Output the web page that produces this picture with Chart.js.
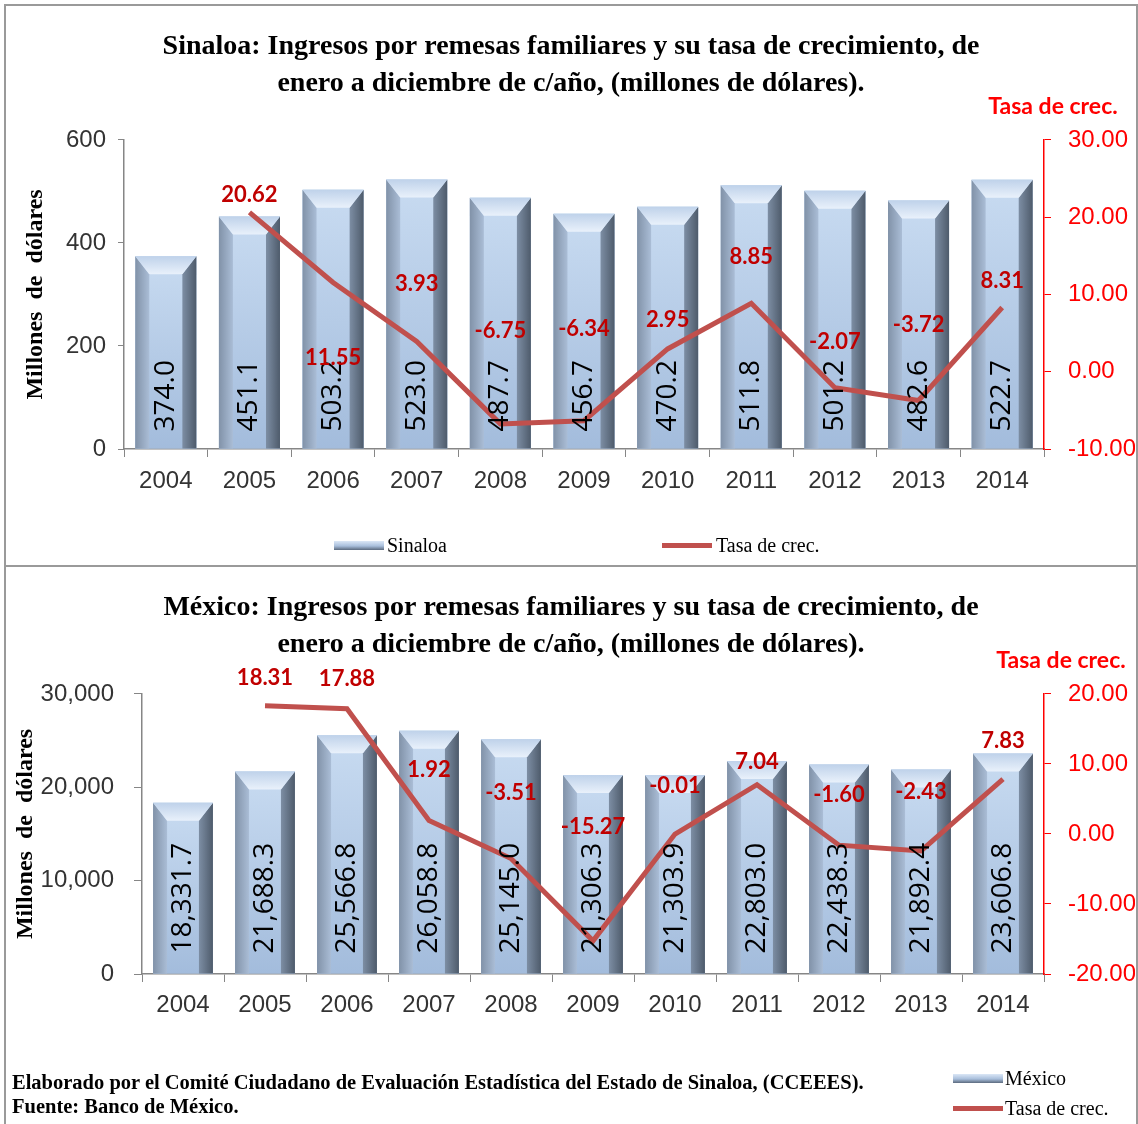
<!DOCTYPE html>
<html>
<head>
<meta charset="utf-8">
<script src="https://cdn.jsdelivr.net/npm/chart.js@4"></script>
<style>
  body { margin: 0; background: #fff; width: 1138px; height: 1124px; overflow: hidden; position: relative; }
  .panel { position: absolute; box-sizing: border-box; border: 2px solid #9a9a9a; }
  canvas { position: absolute; }
  .txt { position: absolute; font-family: 'Liberation Serif', serif; font-size: 20px; color: #000; white-space: nowrap; line-height: 22px; }
  .barIcon { position: absolute; width: 50px; height: 9px; background: linear-gradient(#dbe7f6, #a9bfdc 55%, #5b6a7e); }
  .lineIcon { position: absolute; width: 50px; height: 5px; background: #c0504d; }
  .note { position: absolute; font-family: 'Liberation Serif', serif; font-weight: bold; font-size: 20.5px; white-space: nowrap; line-height: 24px; }
</style>
</head>
<body>
<div class="panel" style="left:4px;top:4px;width:1134px;height:563px"></div>
<div class="panel" style="left:4px;top:565px;width:1134px;height:570px"></div>
<canvas id="sinaloaChart" width="1128" height="558" style="left:7px;top:6px"></canvas>
<canvas id="mexicoChart" width="1128" height="557" style="left:7px;top:567px"></canvas>

<!-- legends and footnote -->
<div class="barIcon" style="left:334px;top:541px"></div>
<div class="txt" style="left:387px;top:534px">Sinaloa</div>
<div class="lineIcon" style="left:662px;top:543px"></div>
<div class="txt" style="left:716px;top:534px">Tasa de crec.</div>

<div class="barIcon" style="left:953px;top:1074px"></div>
<div class="txt" style="left:1005px;top:1067px">México</div>
<div class="lineIcon" style="left:953px;top:1106px"></div>
<div class="txt" style="left:1005px;top:1097px">Tasa de crec.</div>

<div class="note" style="left:12px;top:1070px">Elaborado por el Comité Ciudadano de Evaluación Estadística del Estado de Sinaloa, (CCEEES).</div>
<div class="note" style="left:12px;top:1094px">Fuente: Banco de México.</div>

<script>
// Data
const years = ['2004', '2005', '2006', '2007', '2008', '2009', '2010', '2011', '2012', '2013', '2014'];

const sinaloaRemesas = [374.0, 451.1, 503.2, 523.0, 487.7, 456.7, 470.2, 511.8, 501.2, 482.6, 522.7];
const sinaloaTasa = [null, 20.62, 11.55, 3.93, -6.75, -6.34, 2.95, 8.85, -2.07, -3.72, 8.31];

const mexicoRemesas = [18331.7, 21688.3, 25566.8, 26058.8, 25145.0, 21306.3, 21303.9, 22803.0, 22438.3, 21892.4, 23606.8];
const mexicoTasa = [null, 18.31, 17.88, 1.92, -3.51, -15.27, -0.01, 7.04, -1.60, -2.43, 7.83];

// vertical offsets (px) of the red rate labels, as placed in the original
const sinaloaLabelDy = [0, -17, 75, -57, -93, -92, -29, -46, -46, -76, -27];
const mexicoLabelDy = [0, -28, -30, -51, -66, -114, -48, -23, -50, -59, -38];

// Bevelled 3D-ish bars
function poly(ctx, pts, fill) {
  ctx.beginPath();
  ctx.moveTo(pts[0][0], pts[0][1]);
  pts.slice(1).forEach(p => ctx.lineTo(p[0], p[1]));
  ctx.closePath();
  ctx.fillStyle = fill;
  ctx.fill();
}

function drawBevelBar(ctx, l, r, t, b) {
  const w = r - l, s = 14, h = 18;
  let g = ctx.createLinearGradient(0, t, 0, b);
  g.addColorStop(0, '#c8dbf1');
  g.addColorStop(1, '#a3bcdc');
  ctx.fillStyle = g;
  ctx.fillRect(l, t, w, b - t);
  // left side
  g = ctx.createLinearGradient(l, 0, l + s, 0);
  g.addColorStop(0, '#8192a8');
  g.addColorStop(1, '#aabdd6');
  poly(ctx, [[l, t], [l + s, t + h], [l + s, b], [l, b]], g);
  // right side
  g = ctx.createLinearGradient(r - s, 0, r, 0);
  g.addColorStop(0, '#7d8ea4');
  g.addColorStop(1, '#4e5b6b');
  poly(ctx, [[r, t], [r - s, t + h], [r - s, b], [r, b]], g);
  // top
  g = ctx.createLinearGradient(0, t, 0, t + h);
  g.addColorStop(0, '#bfd2ea');
  g.addColorStop(1, '#e9f1fb');
  poly(ctx, [[l, t], [r, t], [r - s, t + h], [l + s, t + h]], g);
}

const bevelPlugin = {
  id: 'bevel',
  afterDatasetDraw(chart, args) {
    if (args.meta.type !== 'bar') return;
    const ctx = chart.ctx;
    ctx.save();
    args.meta.data.forEach(bar => {
      drawBevelBar(ctx, bar.x - bar.width / 2, bar.x + bar.width / 2, bar.y, bar.base);
    });
    ctx.restore();
  }
};

// Value labels: vertical numbers in the bars and red rates near the line
const labelsPlugin = {
  id: 'valueLabels',
  afterDatasetsDraw(chart, args, opts) {
    const ctx = chart.ctx;
    ctx.save();
    const bars = chart.getDatasetMeta(1);
    ctx.font = '28px "Open Sans"';
    ctx.fillStyle = '#000';
    ctx.textAlign = 'left';
    ctx.textBaseline = 'middle';
    bars.data.forEach((bar, i) => {
      const v = chart.data.datasets[1].data[i];
      ctx.save();
      ctx.translate(bar.x, bar.base - opts.barTextGap);
      ctx.rotate(-Math.PI / 2);
      ctx.fillText(opts.fmt(v), 0, 0);
      ctx.restore();
    });
    const line = chart.getDatasetMeta(0);
    ctx.font = 'bold 22px Lato';
    ctx.fillStyle = '#c00000';
    ctx.textAlign = 'center';
    line.data.forEach((pt, i) => {
      const v = chart.data.datasets[0].data[i];
      if (v === null) return;
      ctx.fillText(v.toFixed(2), pt.x, pt.y + opts.dy[i]);
    });
    // right axis caption
    const y1 = chart.scales.y1;
    ctx.font = 'bold 23px Lato';
    ctx.fillStyle = '#ff0000';
    ctx.fillText('Tasa de crec.', y1.left + opts.capDx, y1.top - opts.capDy);
    ctx.restore();
  }
};

function makeChart(id, cfg) {
  return new Chart(document.getElementById(id), {
    type: 'bar',
    data: {
      labels: years,
      datasets: [{
        type: 'line',
        label: 'Tasa de crec.',
        data: cfg.tasa,
        yAxisID: 'y1',
        borderColor: '#c0504d',
        borderWidth: 5,
        pointRadius: 0,
        tension: 0,
        order: 0,
      }, {
        label: cfg.name,
        data: cfg.remesas,
        yAxisID: 'y',
        backgroundColor: '#b9cde5',
        barPercentage: 0.73,
        categoryPercentage: 1,
        order: 1,
      }]
    },
    options: {
      responsive: false,
      animation: false,
      layout: { padding: 0 },
      scales: {
        x: {
          afterFit: s => { s.height = cfg.xHeight; },
          grid: { display: true, drawOnChartArea: false, color: '#868686', tickLength: 8 },
          border: { color: '#868686', width: 1.5 },
          ticks: { color: '#333', padding: cfg.xPad, font: { family: 'Liberation Sans', size: 24 } },
        },
        y: {
          position: 'left',
          min: cfg.yMin, max: cfg.yMax,
          afterFit: s => { s.width = cfg.yWidth; },
          grid: { display: true, drawOnChartArea: false, color: '#868686', tickLength: cfg.yTick },
          border: { color: '#868686', width: 1.5 },
          ticks: {
            stepSize: cfg.yStep, color: '#333', padding: cfg.yPad,
            font: { family: 'Liberation Sans', size: 24 },
            callback: v => v.toLocaleString('en-US'),
          },
          title: {
            display: true,
            text: 'Millones  de  dólares',
            color: '#000',
            padding: { top: cfg.yTitlePad, bottom: 0 },
            font: { family: 'Liberation Serif', size: 24, weight: 'bold' },
          },
        },
        y1: {
          position: 'right',
          min: cfg.y1Min, max: cfg.y1Max,
          afterFit: s => { s.width = 91; },
          grid: { display: true, drawOnChartArea: false, color: '#ff0000', tickLength: 7 },
          border: { color: '#ff0000', width: 1.5 },
          ticks: {
            stepSize: 10, color: '#ff0000', padding: 17,
            font: { family: 'Liberation Sans', size: 24 },
            callback: v => v.toFixed(2),
          },
        },
      },
      plugins: {
        legend: { display: false },
        tooltip: { enabled: false },
        title: {
          display: true,
          text: cfg.title,
          color: '#000',
          padding: { top: 22, bottom: cfg.titleBottom },
          font: { family: 'Liberation Serif', size: 28, weight: 'bold', lineHeight: 1.32 },
        },
        valueLabels: {
          fmt: cfg.fmt,
          dy: cfg.labelDy,
          barTextGap: cfg.barTextGap,
          capDx: cfg.capDx,
          capDy: 33,
        },
      },
    },
    plugins: [bevelPlugin, labelsPlugin],
  });
}

// Sinaloa chart
makeChart('sinaloaChart', {
  name: 'Sinaloa',
  remesas: sinaloaRemesas,
  tasa: sinaloaTasa,
  labelDy: sinaloaLabelDy,
  title: ['Sinaloa: Ingresos por remesas familiares y su tasa de crecimiento, de',
          'enero a diciembre de c/año, (millones de dólares).'],
  titleBottom: 38,
  yMin: 0, yMax: 600, yStep: 200,
  y1Min: -10, y1Max: 30,
  yWidth: 117, yTick: 6, yPad: 12, yTitlePad: 14,
  xHeight: 115, xPad: 10,
  barTextGap: 17,
  capDx: 9,
  fmt: v => v.toFixed(1),
});

// Mexico chart
makeChart('mexicoChart', {
  name: 'México',
  remesas: mexicoRemesas,
  tasa: mexicoTasa,
  labelDy: mexicoLabelDy,
  title: ['México: Ingresos por remesas familiares y su tasa de crecimiento, de',
          'enero a diciembre de c/año, (millones de dólares).'],
  titleBottom: 31,
  yMin: 0, yMax: 30000, yStep: 10000,
  y1Min: -20, y1Max: 20,
  yWidth: 135, yTick: 8, yPad: 20, yTitlePad: 4,
  xHeight: 150, xPad: 9,
  barTextGap: 20,
  capDx: 17,
  fmt: v => v.toLocaleString('en-US', { minimumFractionDigits: 1, maximumFractionDigits: 1 }),
});
</script>
</body>
</html>
